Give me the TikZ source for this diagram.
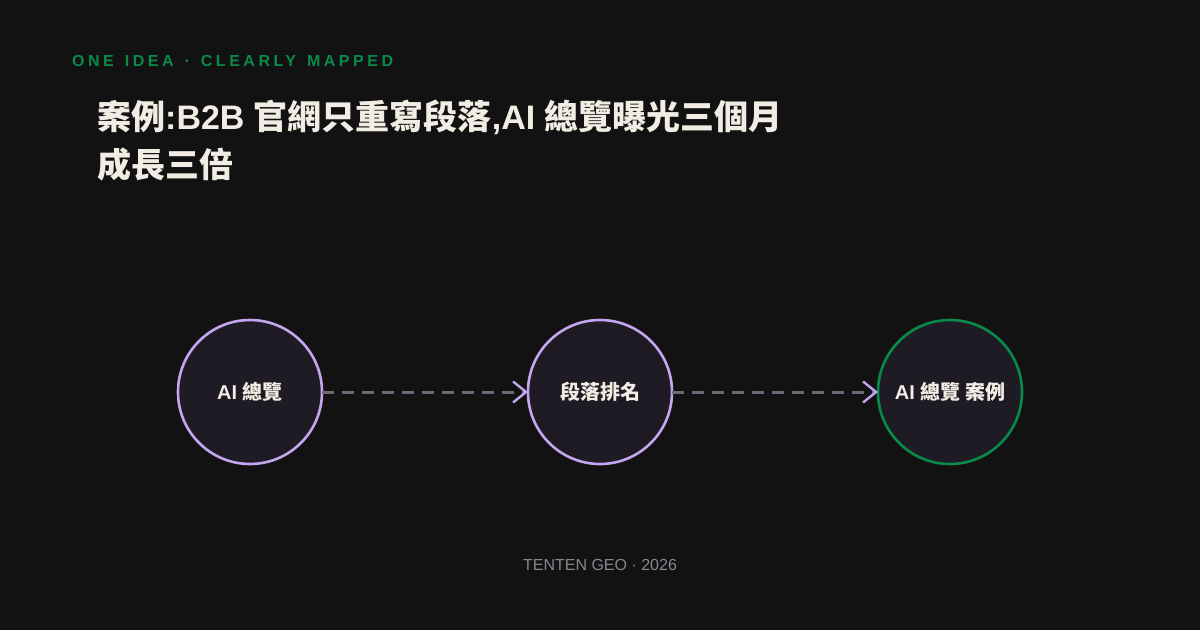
\documentclass[tikz,border=0pt]{standalone}
\usepackage{fontspec}
\usetikzlibrary{arrows.meta}
\setmainfont{Liberation Sans}
\newfontfamily\cjk{Noto Sans CJK TC}
\newfontfamily\lat{Liberation Sans}
\newfontfamily\hdr[LetterSpace=22]{Liberation Sans}
\newcommand\latb[1]{{\lat\bfseries #1}}
\definecolor{bg}{HTML}{121212}
\definecolor{nodefill}{HTML}{1E1B24}
\definecolor{lav}{HTML}{C4A6F0}
\definecolor{grn}{HTML}{0A8A4A}
\definecolor{cream}{HTML}{F2EDE4}
\definecolor{dash}{HTML}{6E6878}
\definecolor{foot}{HTML}{8A8590}
\tikzset{
  stage/.style={circle, minimum size=144pt, inner sep=0pt, outer sep=0pt, draw=lav, line width=2.6pt, fill=nodefill, text=cream, font=\cjk\bfseries\fontsize{20}{24}\selectfont},
  goal/.style={stage, draw=grn},
  flow/.style={draw=dash, line width=3pt, dash pattern=on 12pt off 8pt, -{Straight Barb[color=lav, length=13pt, width=21pt, line width=2.4pt]}}
}
\begin{document}
\begin{tikzpicture}[x=1pt,y=-1pt]
\fill[bg] (0,0) rectangle (1200,630);
\useasboundingbox (0,0) rectangle (1200,630);
\node[anchor=base west, inner sep=0pt, text=grn, font=\hdr\bfseries\fontsize{16}{20}\selectfont] (kicker) at (72,66) {ONE\hspace{3pt} IDEA\hspace{3pt} ·\hspace{3pt} CLEARLY\hspace{3pt} MAPPED};
\node[anchor=base west, inner sep=0pt, text=cream, align=left, font=\cjk\bfseries\fontsize{34}{48}\selectfont] (title) at (97,177) {案例\latb{:B2B }官網只重寫段落\latb{,AI }總覽曝光三個月\\成長三倍};
\node[stage] (a) at (250,392) {\latb{AI }總覽};
\node[stage] (b) at (600,392) {段落排名};
\node[goal] (c) at (950,392) {\latb{AI }總覽 案例};
\draw[flow] (a) -- (b);
\draw[flow] (b) -- (c);
\node[anchor=base, inner sep=0pt, text=foot, font=\fontsize{16}{19}\selectfont] (footer) at (600,570) {TENTEN GEO · 2026};
\end{tikzpicture}
\end{document}
